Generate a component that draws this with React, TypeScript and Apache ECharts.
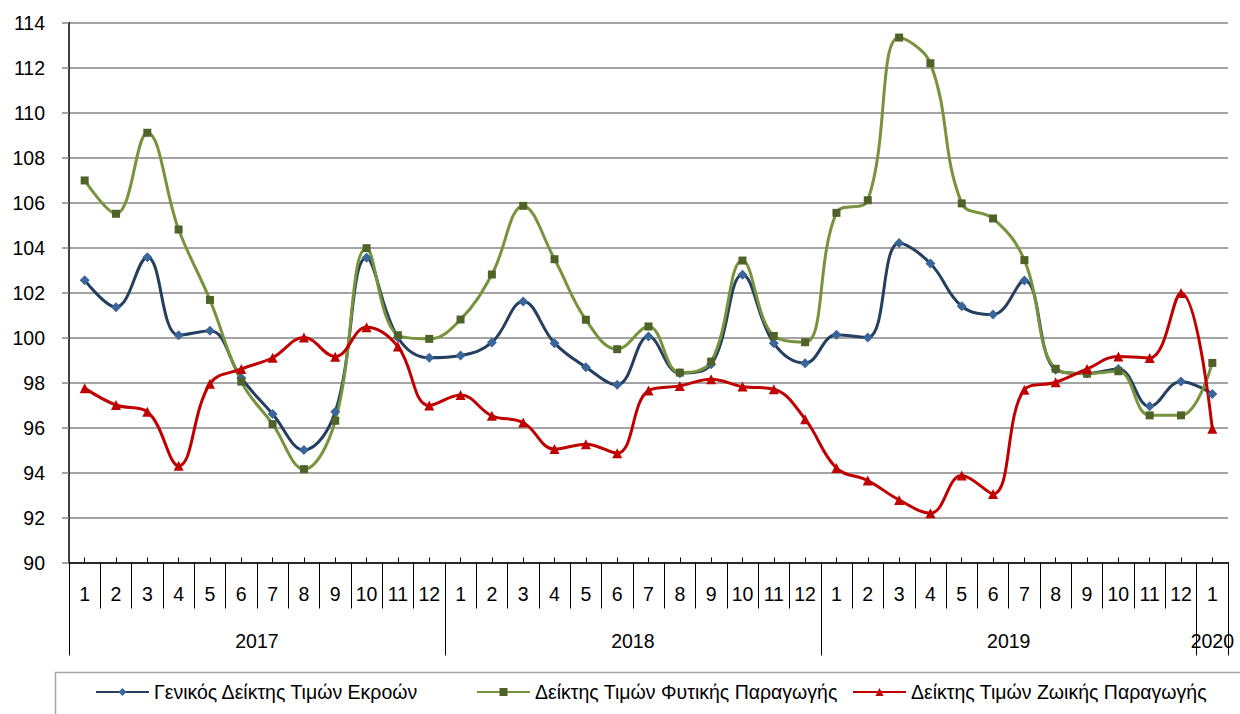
import React, { useEffect, useRef } from "react";
import * as echarts from "echarts";

const months = ["1","2","3","4","5","6","7","8","9","10","11","12","1","2","3","4","5","6","7","8","9","10","11","12","1","2","3","4","5","6","7","8","9","10","11","12","1"];
const years = ["2017", "2018", "2019", "2020"];
const yearStarts = [0, 12, 24, 36];
const yearEnds = [12, 24, 36, 37];

const seriesNames = [
  "Γενικός Δείκτης Τιμών Εκροών",
  "Δείκτης Τιμών Φυτικής Παραγωγής",
  "Δείκτης Τιμών Ζωικής Παραγωγής",
];

const general = [102.55,101.35,103.57,100.1,100.3,98.2,96.6,95.0,96.7,103.55,100.0,99.1,
  99.2,99.78,101.6,99.75,98.68,97.9,100.04,98.41,98.81,102.79,99.75,98.86,
  100.12,100.0,104.2,103.29,101.39,101.02,102.53,98.57,98.4,98.6,96.94,98.05,97.49];

const plant = [106.98,105.5,109.1,104.8,101.67,98.04,96.15,94.15,96.3,103.97,100.1,99.94,
  100.8,102.8,105.85,103.48,100.79,99.48,100.49,98.44,98.93,103.42,100.07,99.79,
  105.54,106.1,113.33,112.19,105.96,105.29,103.44,98.61,98.39,98.5,96.54,96.54,98.87];

const animal = [97.75,97.0,96.7,94.3,97.95,98.6,99.1,100.0,99.15,100.46,99.6,96.98,
  97.45,96.52,96.22,95.04,95.26,94.86,97.64,97.85,98.15,97.82,97.7,96.37,
  94.2,93.64,92.78,92.19,93.87,93.05,97.68,98.01,98.6,99.16,99.09,101.98,95.95];

const FONT = "'Liberation Sans', Arial, sans-serif";
const FS = 19.5;

export default function App() {
  const ref = useRef<HTMLDivElement>(null);
  useEffect(() => {
    if (!ref.current) return;
    const chart = echarts.init(ref.current, null, { renderer: "svg" });
    const yearBoundaries = [0, ...yearEnds];
    const yearCenters = yearStarts.map((s, i) => (s + yearEnds[i]) / 2);
    const lineDefs = [
      { name: seriesNames[0], data: general, line: "#243F60", mark: "#3A6699", symbol: "diamond", size: 10 },
      { name: seriesNames[1], data: plant, line: "#77933C", mark: "#4F6228", symbol: "rect", size: 8 },
      { name: seriesNames[2], data: animal, line: "#C00000", mark: "#C00000", symbol: "triangle", size: 10 },
    ];
    const legendLefts = [95, 476, 852];
    chart.setOption({
      animation: false,
      textStyle: { fontFamily: FONT },
      grid: { left: 69, right: 12, top: 22.5, bottom: 151.5, containLabel: false },
      graphic: [
        {
          type: "rect",
          shape: { x: 55.5, y: 672.5, width: 1200, height: 60 },
          style: { fill: "none", stroke: "#A6A6A6", lineWidth: 1.5 },
          silent: true,
        },
      ],
      legend: lineDefs.map((d, i) => ({
        data: [d.name],
        left: legendLefts[i],
        top: 682,
        padding: 0,
        itemWidth: 53,
        itemHeight: 10,
        itemGap: 0,
        textStyle: { fontFamily: FONT, fontSize: FS, color: "#000" },
      })),
      xAxis: [
        {
          type: "category",
          data: months,
          position: "bottom",
          boundaryGap: true,
          axisLine: { show: true, lineStyle: { color: "#000", width: 1.5 } },
          axisTick: { show: true, alignWithLabel: false, inside: false, length: 46, lineStyle: { color: "#000", width: 1 } },
          axisLabel: { interval: 0, color: "#000", fontSize: FS, margin: 21, fontFamily: FONT },
          splitLine: { show: false },
        },
        {
          type: "category",
          data: months,
          position: "bottom",
          boundaryGap: true,
          axisLine: { show: false },
          axisTick: { show: true, alignWithLabel: true, inside: true, length: 5, interval: 0, lineStyle: { color: "#000", width: 1 } },
          axisLabel: { show: false },
          splitLine: { show: false },
        },
        {
          type: "value",
          position: "bottom",
          min: 0,
          max: months.length,
          axisLine: { show: false },
          axisTick: { show: true, inside: false, length: 93, customValues: yearBoundaries, lineStyle: { color: "#000", width: 1 } },
          axisLabel: {
            show: true,
            customValues: yearCenters,
            color: "#000",
            fontSize: FS,
            margin: 68,
            fontFamily: FONT,
            formatter: (v: number) => {
              const i = yearStarts.findIndex((s, k) => v >= s && v <= yearEnds[k]);
              return i >= 0 ? years[i] : "";
            },
          },
          splitLine: { show: false },
        },
      ],
      yAxis: {
        type: "value",
        min: 90,
        max: 114,
        interval: 2,
        axisLine: { show: true, lineStyle: { color: "#000", width: 1.5 } },
        axisTick: { show: true, inside: false, length: 7, lineStyle: { color: "#868686", width: 1.5 } },
        axisLabel: { color: "#000", fontSize: FS, margin: 24, fontFamily: FONT },
        splitLine: { show: true, lineStyle: { color: "#868686", width: 1.5 } },
      },
      series: lineDefs.map((d) => ({
        type: "line",
        name: d.name,
        data: d.data,
        xAxisIndex: 0,
        smooth: 0.4,
        symbol: d.symbol,
        symbolSize: d.size,
        showSymbol: true,
        lineStyle: { color: d.line, width: 3 },
        itemStyle: { color: d.mark, borderWidth: 0 },
        emphasis: { disabled: true },
      })),
    });
    return () => chart.dispose();
  }, []);
  return (
    <div
      ref={ref}
      style={{ position: "fixed", left: 0, top: 0, width: 1240, height: 714, background: "#fff" }}
    />
  );
}
